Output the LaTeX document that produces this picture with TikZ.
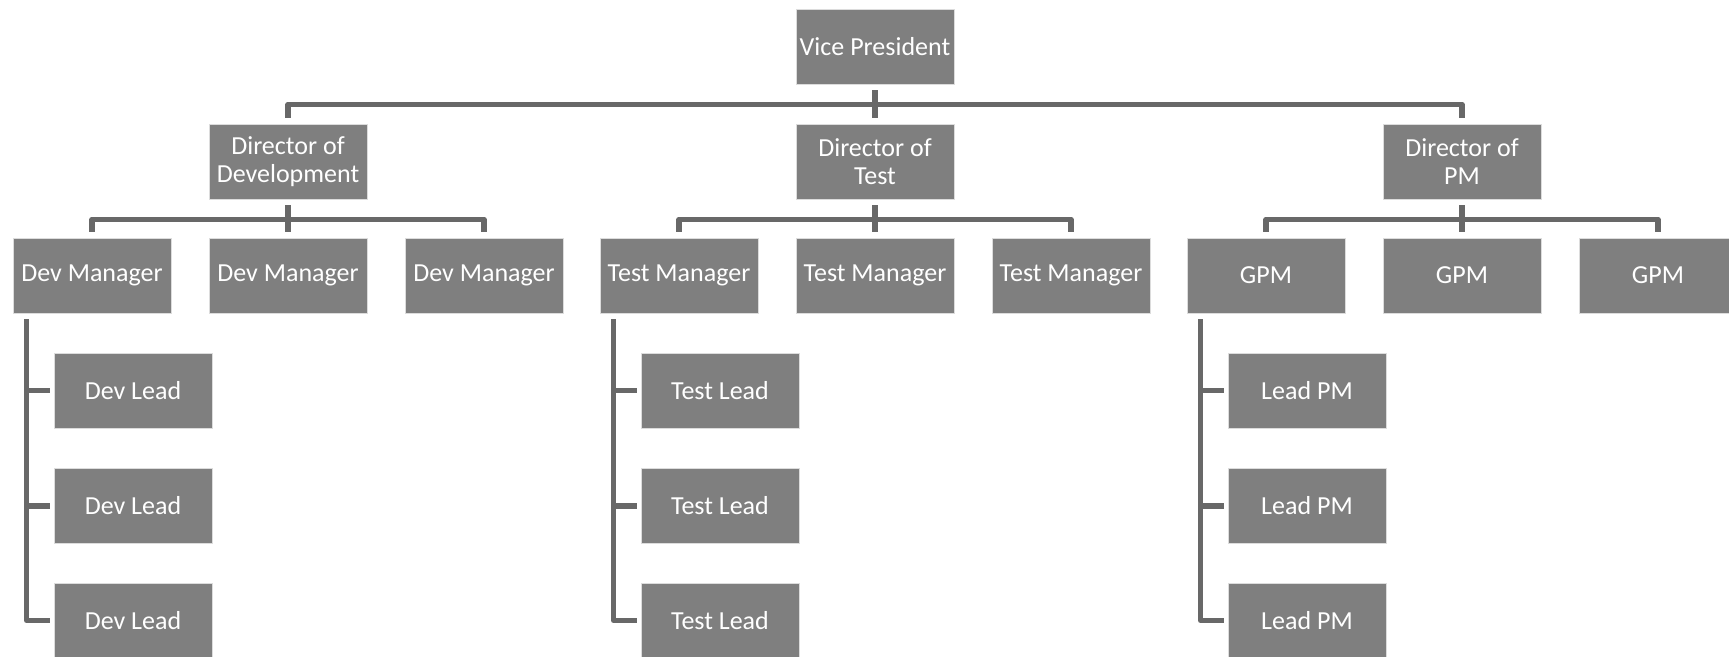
\documentclass[tikz,border=0pt]{standalone}
\usepackage{fontspec}
\setmainfont{Carlito}
\usepackage{tikz}
\definecolor{boxgray}{RGB}{127, 127, 127}
\definecolor{rimgray}{RGB}{220, 220, 220}
\definecolor{linkgray}{RGB}{104, 104, 104}

\begin{document}
\begin{tikzpicture}[scale = 1,
		box/.style = {rectangle, fill = boxgray, draw = rimgray, line width = 0.5pt, minimum width = 3.16cm, minimum height = 1.5cm, inner sep = 0pt, align = center, text = white, font = \fontsize{14.8}{16.3}\selectfont},
		link/.style = {draw = linkgray, line width = 3pt, line join = round, shorten < = 0.12cm, shorten > = 0.12cm}]
			\useasboundingbox (0,0) rectangle (34.58,13.14);
			\node (vp) at (17.5,12.21) [box] {Vice President};
			\node (dd) at (5.76,9.91) [box] {Director of\\Development};
			\node (dt) at (17.5,9.91) [box] {Director of\\Test};
			\node (dp) at (29.24,9.91) [box] {Director of\\PM};
			\node (dm1) at (1.84,7.63) [box] {Dev Manager};
			\node (dm2) at (5.76,7.63) [box] {Dev Manager};
			\node (dm3) at (9.68,7.63) [box] {Dev Manager};
			\node (tm1) at (13.58,7.63) [box] {Test Manager};
			\node (tm2) at (17.5,7.63) [box] {Test Manager};
			\node (tm3) at (21.42,7.63) [box] {Test Manager};
			\node (gp1) at (25.32,7.63) [box] {GPM};
			\node (gp2) at (29.24,7.63) [box] {GPM};
			\node (gp3) at (33.16,7.63) [box] {GPM};
			\node (dl1) at (2.66,5.33) [box] {Dev Lead};
			\node (dl2) at (2.66,3.02) [box] {Dev Lead};
			\node (dl3) at (2.66,0.73) [box] {Dev Lead};
			\node (tl1) at (14.40,5.33) [box] {Test Lead};
			\node (tl2) at (14.40,3.02) [box] {Test Lead};
			\node (tl3) at (14.40,0.73) [box] {Test Lead};
			\node (lp1) at (26.14,5.33) [box] {Lead PM};
			\node (lp2) at (26.14,3.02) [box] {Lead PM};
			\node (lp3) at (26.14,0.73) [box] {Lead PM};
			\draw[link] (vp.south) -- ++(0,-0.4) -| (dd.north);
			\draw[link] (vp.south) -- ++(0,-0.4) -| (dt.north);
			\draw[link] (vp.south) -- ++(0,-0.4) -| (dp.north);
			\draw[link] (dd.south) -- ++(0,-0.4) -| (dm1.north);
			\draw[link] (dd.south) -- ++(0,-0.4) -| (dm2.north);
			\draw[link] (dd.south) -- ++(0,-0.4) -| (dm3.north);
			\draw[link] (dt.south) -- ++(0,-0.4) -| (tm1.north);
			\draw[link] (dt.south) -- ++(0,-0.4) -| (tm2.north);
			\draw[link] (dt.south) -- ++(0,-0.4) -| (tm3.north);
			\draw[link] (dp.south) -- ++(0,-0.4) -| (gp1.north);
			\draw[link] (dp.south) -- ++(0,-0.4) -| (gp2.north);
			\draw[link] (dp.south) -- ++(0,-0.4) -| (gp3.north);
			\draw[link, shorten > = 0.08cm] ([xshift = 0.28cm]dm1.south west) |- (dl1.west);
			\draw[link, shorten > = 0.08cm] ([xshift = 0.28cm]dm1.south west) |- (dl2.west);
			\draw[link, shorten > = 0.08cm] ([xshift = 0.28cm]dm1.south west) |- (dl3.west);
			\draw[link, shorten > = 0.08cm] ([xshift = 0.28cm]tm1.south west) |- (tl1.west);
			\draw[link, shorten > = 0.08cm] ([xshift = 0.28cm]tm1.south west) |- (tl2.west);
			\draw[link, shorten > = 0.08cm] ([xshift = 0.28cm]tm1.south west) |- (tl3.west);
			\draw[link, shorten > = 0.08cm] ([xshift = 0.28cm]gp1.south west) |- (lp1.west);
			\draw[link, shorten > = 0.08cm] ([xshift = 0.28cm]gp1.south west) |- (lp2.west);
			\draw[link, shorten > = 0.08cm] ([xshift = 0.28cm]gp1.south west) |- (lp3.west);
			\end{tikzpicture}
\end{document}
